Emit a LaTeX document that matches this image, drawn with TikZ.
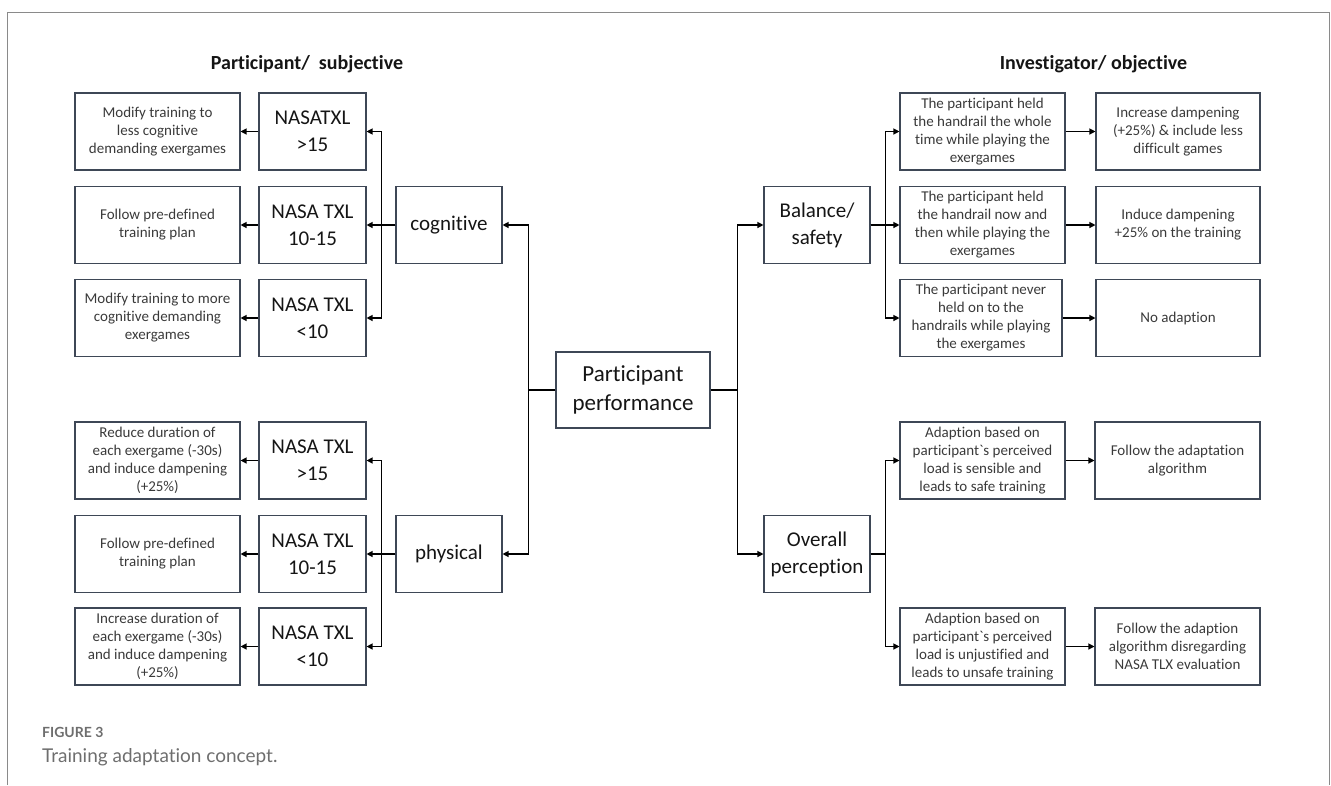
\documentclass[tikz,border=0pt]{standalone}
\usepackage{fontspec}
\setmainfont{Carlito}[Ligatures={TeX,NoCommon}]
\newfontfamily\capfont{Lato}[Ligatures={TeX,NoCommon}]
\usetikzlibrary{arrows.meta}
\definecolor{boxc}{HTML}{3E4756}
\definecolor{smallc}{HTML}{3A3A3A}
\definecolor{bigc}{HTML}{151515}
\definecolor{framec}{HTML}{8A8A8A}
\definecolor{capc}{HTML}{6E6E6E}
\newcommand{\smallf}{\fontsize{15}{18}\selectfont}
\newcommand{\bigf}{\fontsize{21}{27}\selectfont}
\begin{document}
\begin{tikzpicture}[x=1pt,y=-1pt,
  box/.style={draw=boxc, line width=1.1pt, inner sep=0pt, align=center, text=smallc, font=\smallf},
  bigbox/.style={box, text=bigc, font=\bigf},
  wide/.style={minimum width=165pt, minimum height=77pt},
  nasa/.style={bigbox, minimum width=107pt, minimum height=77pt},
  mid/.style={bigbox, minimum width=106pt, minimum height=77pt},
  arr/.style={line width=1.2pt, -{Triangle[length=6pt,width=6pt]}},
  conn/.style={line width=1.2pt},
  ttl/.style={font=\fontsize{20}{24}\selectfont\bfseries, text=bigc, inner sep=0pt, anchor=base}
]
\useasboundingbox (0,0) rectangle (1331,785);
\draw[framec, line width=1pt] (7.5,785) -- (7.5,12.5) -- (1329,12.5) -- (1329,785);

% titles
\node[ttl] (tl) at (307,69) {Participant/~ subjective};
\node[ttl] (tr) at (1093.5,69) {Investigator/ objective};

% left: cognitive
\node[box, wide] (l1) at (157.5,131.5) {Modify training to\\less cognitive\\demanding exergames};
\node[box, wide] (l2) at (157.5,225) {Follow pre-defined\\training plan};
\node[box, wide] (l3) at (157.5,318) {Modify training to more\\cognitive demanding\\exergames};
\node[nasa] (n1) at (312.5,131.5) {NASATXL\\>15};
\node[nasa] (n2) at (312.5,225) {NASA TXL\\10-15};
\node[nasa] (n3) at (312.5,318) {NASA TXL\\<10};
\node[mid] (cog) at (449,225) {cognitive};

% left: physical
\node[box, wide] (l4) at (157.5,460.5) {Reduce duration of\\each exergame (-30s)\\and induce dampening\\(+25\%)};
\node[box, wide] (l5) at (157.5,554) {Follow pre-defined\\training plan};
\node[box, wide] (l6) at (157.5,646.5) {Increase duration of\\each exergame (-30s)\\and induce dampening\\(+25\%)};
\node[nasa] (n4) at (312.5,460.5) {NASA TXL\\>15};
\node[nasa] (n5) at (312.5,554) {NASA TXL\\10-15};
\node[nasa] (n6) at (312.5,646.5) {NASA TXL\\<10};
\node[mid] (phys) at (449,554) {physical};

% centre
\node[bigbox, font=\fontsize{23}{29}\selectfont, minimum width=154pt, minimum height=76pt] (perf) at (633,390) {Participant\\performance};

% right
\node[mid] (bal) at (817,225) {Balance/\\safety};
\node[mid] (ov) at (817,554) {Overall\\perception};
\node[box, wide] (s1) at (982.5,131.5) {The participant held\\the handrail the whole\\time while playing the\\exergames};
\node[box, wide] (s2) at (982.5,225) {The participant held\\the handrail now and\\then while playing the\\exergames};
\node[box, minimum width=162pt, minimum height=77pt] (s3) at (981,318) {The participant never\\held on to the\\handrails while playing\\the exergames};
\node[box, minimum width=164pt, minimum height=77pt] (o1) at (1178,131.5) {Increase dampening\\(+25\%) \& include less\\difficult games};
\node[box, minimum width=164pt, minimum height=77pt] (o2) at (1178,225) {Induce dampening\\+25\% on the training};
\node[box, minimum width=164pt, minimum height=77pt] (o3) at (1178,318) {No adaption};
\node[box, wide] (sa) at (982.5,460.5) {Adaption based on\\participant\textasciigrave s perceived\\load is sensible and\\leads to safe training};
\node[box, wide] (sb) at (982.5,646.5) {Adaption based on\\participant\textasciigrave s perceived\\load is unjustified and\\leads to unsafe training};
\node[box, wide] (oa) at (1177.5,460.5) {Follow the adaptation\\algorithm};
\node[box, wide] (ob) at (1177.5,646.5) {Follow the adaption\\algorithm disregarding\\NASA TLX evaluation};

% connectors left
\foreach \n in {n1,n2,n3} \draw[arr] (cog.west) -- ++(-14,0) |- (\n.east);
\foreach \n in {n4,n5,n6} \draw[arr] (phys.west) -- ++(-14,0) |- (\n.east);
\draw[arr] (n1.west) -- (l1.east);
\draw[arr] (n2.west) -- (l2.east);
\draw[arr] (n3.west) -- (l3.east);
\draw[arr] (n4.west) -- (l4.east);
\draw[arr] (n5.west) -- (l5.east);
\draw[arr] (n6.west) -- (l6.east);
\draw[arr] (perf.west) -- ++(-27,0) |- (cog.east);
\draw[arr] (perf.west) -- ++(-27,0) |- (phys.east);
% connectors right
\draw[arr] (perf.east) -- ++(27,0) |- (bal.west);
\draw[arr] (perf.east) -- ++(27,0) |- (ov.west);
\foreach \n in {s1,s2,s3} \draw[arr] (bal.east) -- ++(15,0) |- (\n.west);
\foreach \n in {sa,sb} \draw[arr] (ov.east) -- ++(15,0) |- (\n.west);
\draw[arr] (s1.east) -- (o1.west);
\draw[arr] (s2.east) -- (o2.west);
\draw[arr] (s3.east) -- (o3.west);
\draw[arr] (sa.east) -- (oa.west);
\draw[arr] (sb.east) -- (ob.west);

% caption
\node[anchor=base west, inner sep=0pt, text=capc, font=\capfont\fontsize{14}{16}\selectfont\bfseries] (figno) at (42,737) {FIGURE 3};
\node[anchor=base west, inner sep=0pt, text=capc, font=\capfont\fontsize{19}{22}\selectfont] (cap) at (42,762) {Training adaptation concept.};
\end{tikzpicture}
\end{document}
